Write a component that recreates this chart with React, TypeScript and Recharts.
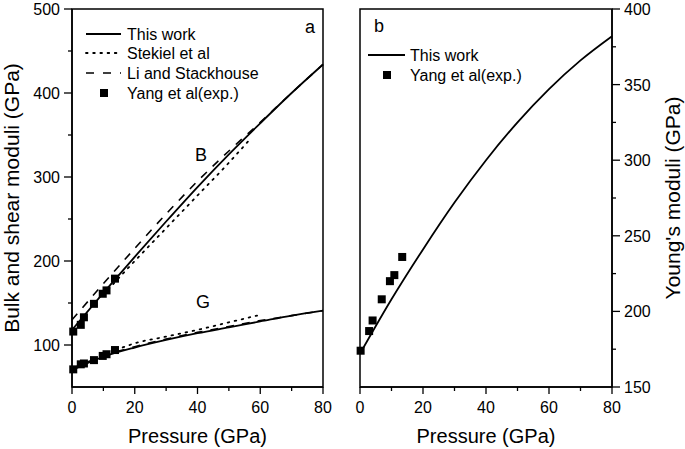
import React from 'react';
import { ComposedChart, Line, Scatter, XAxis, YAxis, ReferenceArea } from 'recharts';

// pressure grid (GPa) for the calculated curves
const pressures = [0, 10, 20, 30, 40, 50, 60, 70, 80];

// panel a: bulk (B) and shear (G) moduli, GPa
const thisWorkB = [118, 162, 205, 247, 288, 327, 364, 400, 434];
const thisWorkG = [70, 86, 97, 106, 114, 121, 128, 135, 141];
const liStackhouseB = [130, 173, 215, 256, 295, 331, 365, 400, 434];
const liStackhouseG = [72, 87, 98, 107, 115, 122, 129, 135, 141];

const stekielBP = [10, 20, 30, 40, 50, 57];
const stekielB = [160, 200, 239, 278, 317, 346];
const stekielGP = [14, 20, 30, 40, 50, 59];
const stekielG = [94, 102, 110, 118, 127, 135];

// Yang et al experiment
const yangP = [0.4, 2.8, 3.8, 7.0, 9.8, 11.0, 13.7];
const yangB = [116, 124, 133, 149, 161, 165, 179];
const yangG = [71, 77, 78, 82, 87, 89, 94];

// panel b: Young's moduli, GPa
const thisWorkE = [172, 208, 241, 272, 300, 325, 347, 366, 382];
const yangEP = [0.2, 2.9, 4.0, 6.9, 9.5, 10.9, 13.4];
const yangE = [174, 187, 194, 208, 220, 224, 236];

const xTicks = [0, 10, 20, 30, 40, 50, 60, 70, 80];
const leftYTicks = [100, 150, 200, 250, 300, 350, 400, 450, 500];
const rightYTicks = [150, 175, 200, 225, 250, 275, 300, 325, 350, 375, 400];

const FONT = '"Liberation Sans", Arial, sans-serif';
const TICK_FS = 16;
const TITLE_FS = 20;

const pts = (xs: number[], ys: number[]) => xs.map((p, i) => ({ p, v: ys[i] }));

const Square = (props: any) => {
  const { cx, cy } = props;
  if (cx == null || cy == null) return null;
  return <rect x={cx - 4} y={cy - 4} width={8} height={8} fill="#000" />;
};

const XTick = (props: any) => {
  const { x, y, payload } = props;
  const major = payload.value % 20 === 0;
  return (
    <g>
      <line x1={x} y1={y} x2={x} y2={y + (major ? 7 : 4)} stroke="#000" strokeWidth={1.3} />
      {major && (
        <text x={x} y={y + 26} textAnchor="middle" fontSize={TICK_FS} fontFamily={FONT} fill="#000">
          {payload.value}
        </text>
      )}
    </g>
  );
};

const LeftYTick = (props: any) => {
  const { x, y, payload } = props;
  const major = payload.value % 100 === 0;
  return (
    <g>
      <line x1={x} y1={y} x2={x - (major ? 8 : 4)} y2={y} stroke="#000" strokeWidth={1.3} />
      {major && (
        <text x={x - 12} y={y + 6} textAnchor="end" fontSize={TICK_FS} fontFamily={FONT} fill="#000">
          {payload.value}
        </text>
      )}
    </g>
  );
};

const RightYTick = (props: any) => {
  const { x, y, payload } = props;
  const major = payload.value % 50 === 0;
  return (
    <g>
      <line x1={x} y1={y} x2={x + (major ? 8 : 4)} y2={y} stroke="#000" strokeWidth={1.3} />
      {major && (
        <text x={x + 12} y={y + 6} textAnchor="start" fontSize={TICK_FS} fontFamily={FONT} fill="#000">
          {payload.value}
        </text>
      )}
    </g>
  );
};

const txt = { fontFamily: FONT, fill: '#000' };
const axisLine = { stroke: '#000', strokeWidth: 1.5 };

function PanelA() {
  return (
    <ComposedChart width={335} height={449} margin={{ top: 9, right: 12, bottom: 0, left: 0 }}>
      <XAxis
        type="number"
        dataKey="p"
        domain={[0, 80]}
        ticks={xTicks}
        interval={0}
        height={62}
        tickSize={0}
        tickMargin={0}
        tickLine={false}
        axisLine={axisLine}
        tick={<XTick />}
        label={{ value: 'Pressure (GPa)', position: 'insideBottom', offset: 6, style: { ...txt, fontSize: TITLE_FS } }}
      />
      <YAxis
        type="number"
        dataKey="v"
        domain={[50, 500]}
        ticks={leftYTicks}
        interval={0}
        width={72}
        tickSize={0}
        tickMargin={0}
        tickLine={false}
        axisLine={axisLine}
        tick={<LeftYTick />}
        label={{
          value: 'Bulk and shear moduli (GPa)',
          angle: -90,
          position: 'insideLeft',
          offset: 12,
          style: { ...txt, fontSize: TITLE_FS + 1, textAnchor: 'middle' },
        }}
      />
      <ReferenceArea x1={0} x2={80} y1={50} y2={500} fill="none" stroke="#000" strokeWidth={1.5} />

      <Line data={pts(pressures, thisWorkB)} dataKey="v" type="monotone" stroke="#000" strokeWidth={1.8} dot={false} isAnimationActive={false} />
      <Line data={pts(pressures, thisWorkG)} dataKey="v" type="monotone" stroke="#000" strokeWidth={1.8} dot={false} isAnimationActive={false} />
      <Line data={pts(stekielBP, stekielB)} dataKey="v" type="monotone" stroke="#000" strokeWidth={1.8} strokeDasharray="1.6 5.6" strokeLinecap="round" dot={false} isAnimationActive={false} />
      <Line data={pts(stekielGP, stekielG)} dataKey="v" type="monotone" stroke="#000" strokeWidth={1.8} strokeDasharray="1.6 5.6" strokeLinecap="round" dot={false} isAnimationActive={false} />
      <Line data={pts(pressures, liStackhouseB)} dataKey="v" type="monotone" stroke="#000" strokeWidth={1.6} strokeDasharray="8 8" dot={false} isAnimationActive={false} />
      <Line data={pts(pressures, liStackhouseG)} dataKey="v" type="monotone" stroke="#000" strokeWidth={1.6} strokeDasharray="8 8" dot={false} isAnimationActive={false} />
      <Scatter data={pts(yangP, yangB)} dataKey="v" shape={<Square />} isAnimationActive={false} />
      <Scatter data={pts(yangP, yangG)} dataKey="v" shape={<Square />} isAnimationActive={false} />

      {/* legend */}
      <g>
        <line x1={86} y1={34} x2={121} y2={34} stroke="#000" strokeWidth={1.8} />
        <line x1={86} y1={53} x2={121} y2={53} stroke="#000" strokeWidth={1.8} strokeDasharray="1.6 5.6" strokeLinecap="round" />
        <line x1={86} y1={73} x2={121} y2={73} stroke="#000" strokeWidth={1.6} strokeDasharray="8 9" />
        <rect x={100} y={89} width={8} height={8} fill="#000" />
        <text x={127} y={40} fontSize={TICK_FS} {...txt}>This work</text>
        <text x={127} y={59} fontSize={TICK_FS} {...txt}>Stekiel et al</text>
        <text x={127} y={79} fontSize={TICK_FS} {...txt}>Li and Stackhouse</text>
        <text x={127} y={99} fontSize={TICK_FS} {...txt}>Yang et al(exp.)</text>
      </g>
      <text x={310} y={33} textAnchor="middle" fontSize={18} {...txt}>a</text>
      <text x={201} y={161} textAnchor="middle" fontSize={18} {...txt}>B</text>
      <text x={203} y={308} textAnchor="middle" fontSize={18} {...txt}>G</text>
    </ComposedChart>
  );
}

function PanelB() {
  return (
    <ComposedChart width={350} height={449} margin={{ top: 9, right: 0, bottom: 0, left: 25 }}>
      <XAxis
        type="number"
        dataKey="p"
        domain={[0, 80]}
        ticks={xTicks}
        interval={0}
        height={62}
        tickSize={0}
        tickMargin={0}
        tickLine={false}
        axisLine={axisLine}
        tick={<XTick />}
        label={{ value: 'Pressure (GPa)', position: 'insideBottom', offset: 6, style: { ...txt, fontSize: TITLE_FS } }}
      />
      <YAxis
        type="number"
        dataKey="v"
        orientation="right"
        domain={[150, 400]}
        ticks={rightYTicks}
        interval={0}
        width={73}
        tickSize={0}
        tickMargin={0}
        tickLine={false}
        axisLine={axisLine}
        tick={<RightYTick />}
        label={{
          value: "Young's moduli (GPa)",
          angle: -90,
          position: 'insideRight',
          offset: 12,
          style: { ...txt, fontSize: TITLE_FS + 1, textAnchor: 'middle' },
        }}
      />
      <ReferenceArea x1={0} x2={80} y1={150} y2={400} fill="none" stroke="#000" strokeWidth={1.5} />

      <Line data={pts(pressures, thisWorkE)} dataKey="v" type="monotone" stroke="#000" strokeWidth={1.8} dot={false} isAnimationActive={false} />
      <Scatter data={pts(yangEP, yangE)} dataKey="v" shape={<Square />} isAnimationActive={false} />

      <g>
        <line x1={368 - 335} y1={55} x2={405 - 335} y2={55} stroke="#000" strokeWidth={1.8} />
        <rect x={383 - 335} y={71} width={8} height={8} fill="#000" />
        <text x={410 - 335} y={61} fontSize={TICK_FS} {...txt}>This work</text>
        <text x={410 - 335} y={81} fontSize={TICK_FS} {...txt}>Yang et al(exp.)</text>
      </g>
      <text x={379 - 335} y={32} textAnchor="middle" fontSize={18} {...txt}>b</text>
    </ComposedChart>
  );
}

export default function App() {
  return (
    <div style={{ position: 'absolute', left: 0, top: 0, width: 685, height: 449, background: '#fff', fontFamily: FONT }}>
      <div style={{ position: 'absolute', left: 0, top: 0 }}>
        <PanelA />
      </div>
      <div style={{ position: 'absolute', left: 335, top: 0 }}>
        <PanelB />
      </div>
    </div>
  );
}
